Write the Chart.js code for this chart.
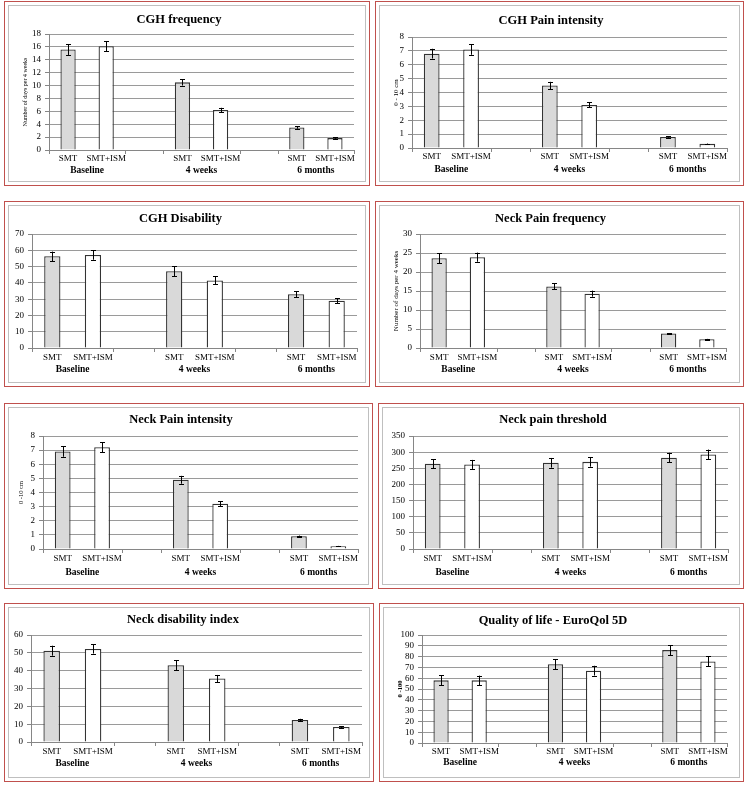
<!DOCTYPE html>
<html><head><meta charset="utf-8">
<script src="https://cdn.jsdelivr.net/npm/chart.js@4/dist/chart.umd.min.js"></script>
<style>
html,body{margin:0;padding:0;background:#fff;width:746px;height:785px;overflow:hidden;}
.frame{position:absolute;box-sizing:border-box;border:1.5px solid #c0504d;}
.inner{position:absolute;left:3px;top:3px;right:3px;bottom:3px;border:1px solid #bfbfbf;}
canvas{position:absolute;}
</style></head><body>
<script>
// ---------- DATA ----------
const groups = ['Baseline', '4 weeks', '6 months'];
const treatments = ['SMT', 'SMT+ISM'];

const cghFreqSMT = [15.6, 10.5, 3.5];
const cghFreqSMTErr = [0.85, 0.5, 0.2];
const cghFreqISM = [16.1, 6.2, 1.85];
const cghFreqISMErr = [0.8, 0.35, 0.1];

const cghPainSMT = [6.8, 4.5, 0.8];
const cghPainSMTErr = [0.35, 0.27, 0.05];
const cghPainISM = [7.1, 3.1, 0.3];
const cghPainISMErr = [0.38, 0.18, 0.02];

const cghDisSMT = [56.3, 47.1, 33.0];
const cghDisSMTErr = [2.9, 3.0, 1.9];
const cghDisISM = [57.1, 41.5, 29.0];
const cghDisISMErr = [2.9, 2.5, 1.6];

const neckFreqSMT = [23.6, 16.2, 3.8];
const neckFreqSMTErr = [1.3, 0.8, 0.15];
const neckFreqISM = [23.9, 14.3, 2.3];
const neckFreqISMErr = [1.2, 0.8, 0.1];

const neckPainSMT = [6.9, 4.9, 0.9];
const neckPainSMTErr = [0.37, 0.28, 0.05];
const neckPainISM = [7.2, 3.2, 0.2];
const neckPainISMErr = [0.35, 0.17, 0.02];

const neckThrSMT = [264, 267, 283];
const neckThrSMTErr = [14, 15, 15];
const neckThrISM = [262, 270, 293];
const neckThrISMErr = [14, 15, 15];

const ndiSMT = [51.2, 43.0, 12.3];
const ndiSMTErr = [2.8, 2.8, 0.7];
const ndiISM = [52.2, 35.6, 8.4];
const ndiISMErr = [2.6, 2.0, 0.5];

const qolSMT = [58, 73, 86];
const qolSMTErr = [4.6, 4.7, 4.6];
const qolISM = [58, 67, 75.5];
const qolISMErr = [4.4, 4.5, 4.6];

// y-axis ranges [max, step]
const cghFreqAxis = [18, 2];
const cghPainAxis = [8, 1];
const cghDisAxis = [70, 10];
const neckFreqAxis = [30, 5];
const neckPainAxis = [8, 1];
const neckThrAxis = [350, 50];
const ndiAxis = [60, 10];
const qolAxis = [100, 10];

// ---------- LAYOUT ----------
const SERIF = "'Liberation Serif', 'Times New Roman', serif";
const AXIS = '#868686';
const GRID = '#9a9a9a';

const labels = [];
groups.forEach((g, i) => { treatments.forEach(t => labels.push(t)); if (i < groups.length - 1) labels.push(''); });

function spread(vals, offset) {
  const out = labels.map(() => null);
  vals.forEach((v, g) => { out[g * 3 + offset] = v; });
  return out;
}

const panels = [
  {title:'CGH frequency', smt:cghFreqSMT, smtErr:cghFreqSMTErr, ism:cghFreqISM, ismErr:cghFreqISMErr, axis:cghFreqAxis,
   yTitle:'Number of days per 4 weeks', yTitleSize:6, yTitleBold:false, yTitleX:25,
   box:{x:4,y:1,w:366,h:185}, area:{l:49,t:34,r:354,b:150}, titleY:20, catY:159, groupY:171},
  {title:'CGH Pain intensity', smt:cghPainSMT, smtErr:cghPainSMTErr, ism:cghPainISM, ismErr:cghPainISMErr, axis:cghPainAxis,
   yTitle:'0 - 10 cm', yTitleSize:7, yTitleBold:false, yTitleX:396,
   box:{x:375,y:1,w:369,h:185}, area:{l:412,t:37,r:727,b:148}, titleY:21, catY:157, groupY:170},
  {title:'CGH Disability', smt:cghDisSMT, smtErr:cghDisSMTErr, ism:cghDisISM, ismErr:cghDisISMErr, axis:cghDisAxis,
   yTitle:'', box:{x:4,y:201,w:366,h:186}, area:{l:32,t:234,r:357,b:348}, titleY:219, catY:358, groupY:370},
  {title:'Neck Pain frequency', smt:neckFreqSMT, smtErr:neckFreqSMTErr, ism:neckFreqISM, ismErr:neckFreqISMErr, axis:neckFreqAxis,
   yTitle:'Number of days per 4 weeks', yTitleSize:7, yTitleBold:false, yTitleX:396,
   box:{x:375,y:201,w:369,h:186}, area:{l:420,t:234,r:726,b:348}, titleY:219, catY:358, groupY:370},
  {title:'Neck Pain intensity', smt:neckPainSMT, smtErr:neckPainSMTErr, ism:neckPainISM, ismErr:neckPainISMErr, axis:neckPainAxis,
   yTitle:'0 -10 cm', yTitleSize:6.5, yTitleBold:false, yTitleX:21,
   box:{x:4,y:403,w:369,h:186}, area:{l:43,t:436,r:358,b:549}, titleY:420, catY:559, groupY:573},
  {title:'Neck pain threshold', smt:neckThrSMT, smtErr:neckThrSMTErr, ism:neckThrISM, ismErr:neckThrISMErr, axis:neckThrAxis,
   yTitle:'', box:{x:378,y:403,w:366,h:186}, area:{l:413,t:436,r:728,b:549}, titleY:420, catY:559, groupY:573},
  {title:'Neck disability index', smt:ndiSMT, smtErr:ndiSMTErr, ism:ndiISM, ismErr:ndiISMErr, axis:ndiAxis,
   yTitle:'', box:{x:4,y:603,w:370,h:179}, area:{l:31,t:635,r:362,b:742}, titleY:620, catY:752, groupY:764},
  {title:'Quality of life - EuroQol 5D', smt:qolSMT, smtErr:qolSMTErr, ism:qolISM, ismErr:qolISMErr, axis:qolAxis,
   yTitle:'0 -100', yTitleSize:6.5, yTitleBold:true, yTitleX:400,
   box:{x:379,y:603,w:365,h:179}, area:{l:422,t:635,r:727,b:743}, titleY:621, catY:752, groupY:763}
];

const errorBars = {
  id: 'errorBars',
  afterDatasetsDraw(chart) {
    const {ctx, scales: {y}} = chart;
    ctx.save();
    ctx.strokeStyle = '#000';
    ctx.lineWidth = 1;
    chart.data.datasets.forEach((ds, i) => {
      const meta = chart.getDatasetMeta(i);
      meta.data.forEach((bar, j) => {
        const v = ds.data[j], e = ds.errors[j];
        if (v == null || e == null) return;
        const top = y.getPixelForValue(v + e), bot = y.getPixelForValue(v - e);
        const x = Math.round(bar.x) + 0.5;
        ctx.beginPath();
        ctx.moveTo(x, top); ctx.lineTo(x, bot);
        ctx.moveTo(x - 2.5, Math.round(top) + 0.5); ctx.lineTo(x + 2.5, Math.round(top) + 0.5);
        ctx.moveTo(x - 2.5, Math.round(bot) + 0.5); ctx.lineTo(x + 2.5, Math.round(bot) + 0.5);
        ctx.stroke();
      });
    });
    ctx.restore();
  }
};

const groupAxis = {
  id: 'groupAxis',
  afterDraw(chart, args, opts) {
    const {ctx, chartArea, scales: {x}} = chart;
    const slot = x.getPixelForValue(1) - x.getPixelForValue(0);
    ctx.save();
    ctx.strokeStyle = AXIS;
    ctx.lineWidth = 1;
    groups.forEach((g, i) => {
      const a = Math.round(x.getPixelForValue(i * 3) - slot / 2) + 0.5;
      const b = Math.round(x.getPixelForValue(i * 3 + 1) + slot / 2) + 0.5;
      [a, b].forEach(px => {
        ctx.beginPath(); ctx.moveTo(px, chartArea.bottom); ctx.lineTo(px, chartArea.bottom + 4); ctx.stroke();
      });
    });
    ctx.fillStyle = '#000';
    ctx.font = 'bold 9.5px ' + SERIF;
    ctx.textAlign = 'center';
    ctx.textBaseline = 'middle';
    groups.forEach((g, i) => {
      const cx = (x.getPixelForValue(i * 3) + x.getPixelForValue(i * 3 + 1)) / 2;
      ctx.fillText(g, cx, chartArea.bottom + opts.offset);
    });
    ctx.restore();
  }
};

panels.forEach(p => {
  const fr = document.createElement('div');
  fr.className = 'frame';
  Object.assign(fr.style, {left: p.box.x + 'px', top: p.box.y + 'px', width: p.box.w + 'px', height: p.box.h + 'px'});
  const inner = document.createElement('div');
  inner.className = 'inner';
  fr.appendChild(inner);
  document.body.appendChild(fr);

  const cv = document.createElement('canvas');
  cv.width = p.box.w; cv.height = p.box.h;
  Object.assign(cv.style, {left: p.box.x + 'px', top: p.box.y + 'px', width: p.box.w + 'px', height: p.box.h + 'px'});
  document.body.appendChild(cv);

  const L = p.area.l - p.box.x;
  const T = p.area.t - p.box.y;
  const R = p.box.x + p.box.w - p.area.r;
  const B = p.box.y + p.box.h - p.area.b;
  const titleSize = 12.5, tlh = titleSize * 1.2;
  const tc = p.titleY - p.box.y;
  const catPad = p.catY - p.area.b - 9 * 1.2 / 2;
  const ySize = p.yTitleSize || 7;
  const yTitlePad = p.yTitle ? (p.yTitleX - p.box.x) - ySize * 1.2 / 2 : 0;

  new Chart(cv, {
    type: 'bar',
    data: {
      labels: labels,
      datasets: [
        {label: treatments[0], data: spread(p.smt, 0), errors: spread(p.smtErr, 0),
         backgroundColor: '#d9d9d9', borderColor: '#333', borderWidth: 1.3,
         grouped: false, barPercentage: 0.4, categoryPercentage: 1},
        {label: treatments[1], data: spread(p.ism, 1), errors: spread(p.ismErr, 1),
         backgroundColor: '#ffffff', borderColor: '#333', borderWidth: 1.3,
         grouped: false, barPercentage: 0.4, categoryPercentage: 1}
      ]
    },
    options: {
      responsive: false,
      animation: false,
      layout: {padding: {left: 0, right: R, top: 0, bottom: 0}},
      plugins: {
        legend: {display: false},
        tooltip: {enabled: false},
        title: {display: true, text: p.title, color: '#000',
                font: {family: SERIF, size: titleSize, weight: 'bold', lineHeight: 1.2},
                padding: {top: tc - tlh / 2, bottom: T - tc - tlh / 2}},
        groupAxis: {offset: p.groupY - p.area.b}
      },
      scales: {
        x: {
          grid: {display: false, drawTicks: false},
          border: {display: true, color: AXIS, width: 1},
          ticks: {autoSkip: false, maxRotation: 0, minRotation: 0, padding: catPad, color: '#000',
                  font: {family: SERIF, size: 9, lineHeight: 1.2}},
          afterFit: s => { s.height = B; }
        },
        y: {
          min: 0, max: p.axis[0],
          ticks: {stepSize: p.axis[1], autoSkip: false, padding: 4, color: '#000', font: {family: SERIF, size: 9}},
          grid: {color: GRID, lineWidth: 1, tickColor: AXIS, tickLength: 4, drawTicks: true},
          border: {display: true, color: AXIS, width: 1},
          title: {display: !!p.yTitle, text: p.yTitle, color: '#000',
                  font: {family: SERIF, size: ySize, weight: p.yTitleBold ? 'bold' : 'normal', lineHeight: 1.2},
                  padding: {top: yTitlePad, bottom: 0}},
          afterFit: s => { s.width = L; }
        }
      }
    },
    plugins: [errorBars, groupAxis]
  });
});
</script>
</body></html>
